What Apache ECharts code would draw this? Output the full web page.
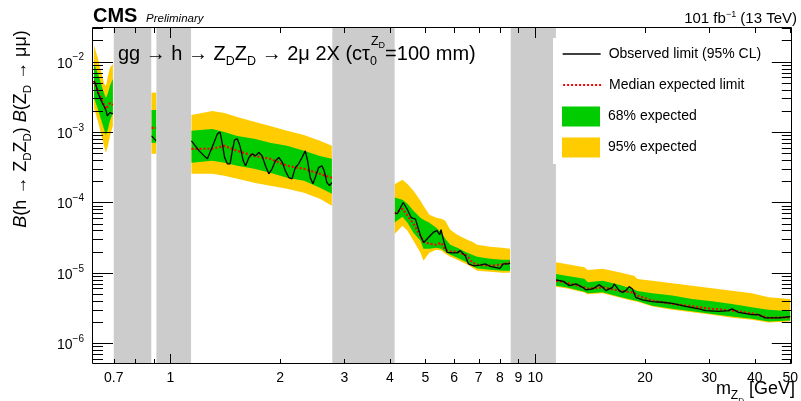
<!DOCTYPE html>
<html><head><meta charset="utf-8">
<script src="https://cdn.jsdelivr.net/npm/echarts@6/dist/echarts.min.js"></script>
<style>html,body{margin:0;padding:0;background:#fff}#c{width:801px;height:401px}</style>
</head><body><div id="c"></div>
<script>
const FONT = '"Liberation Sans", Arial, Helvetica, sans-serif';

// ---------------- data (null = gap between mass windows) ----------------
const massExp = [
  0.618, 0.633, 0.645, 0.658, 0.666, 0.675, 0.683, 0.696, null,
  0.888, 0.915, null,
  1.143, 1.304, 1.406, 1.526, 1.698, 1.877, 2.089, 2.325, 2.570, 2.772, null,
  4.118, 4.329, 4.467, 4.639, 4.849, 4.941, 5.129, 5.359, 5.530, 5.671, 5.851, 6.114, 6.513, 6.721, 6.934, 7.521, 8.113, 8.531, null,
  11.41, 12.15, 13.64, 13.93, 15.30, 16.99, 18.67, 19.06, 20.95, 23.75, 26.93, 30.53, 34.62, 39.25, 43.60, 50.0
];
const yellowHigh = [
  0.0170, 0.0113, 7.38e-3, 4.99e-3, 4.52e-3, 6.27e-3, 8.14e-3, 9.28e-3, null,
  3.63e-3, 3.63e-3, null,
  1.75e-3, 2.0e-3, 1.87e-3, 1.64e-3, 1.40e-3, 1.22e-3, 1.04e-3, 9.12e-4, 7.5e-4, 6.37e-4, null,
  1.82e-4, 2.10e-4, 1.83e-4, 1.47e-4, 1.06e-4, 8.98e-5, 6.69e-5, 6.07e-5, 5.87e-5, 5.50e-5, 4.10e-5, 3.48e-5, 2.96e-5, 2.77e-5, 2.51e-5, 2.35e-5, 2.28e-5, 2.20e-5, null,
  1.41e-5, 1.34e-5, 1.20e-5, 1.10e-5, 1.14e-5, 1.02e-5, 9.12e-6, 8.20e-6, 7.75e-6, 7.10e-6, 6.58e-6, 6.03e-6, 5.59e-6, 5.12e-6, 4.49e-6, 4.26e-6
];
const greenHigh = [
  9.28e-3, 6.91e-3, 4.99e-3, 3.60e-3, 3.06e-3, 3.60e-3, 4.52e-3, 5.68e-3, null,
  2.06e-3, 2.06e-3, null,
  1.04e-3, 1.11e-3, 1.0e-3, 8.83e-4, 8.01e-4, 7.03e-4, 6.37e-4, 5.41e-4, 4.59e-4, 4.17e-4, null,
  1.18e-4, 1.09e-4, 9.58e-5, 7.63e-5, 6.07e-5, 5.68e-5, 5.15e-5, 4.38e-5, 3.72e-5, 3.06e-5, 2.51e-5, 2.28e-5, 1.93e-5, 1.81e-5, 1.70e-5, 1.59e-5, 1.54e-5, 1.54e-5, null,
  9.65e-6, 9.12e-6, 8.27e-6, 7.33e-6, 7.75e-6, 6.80e-6, 5.78e-6, 5.54e-6, 5.12e-6, 4.75e-6, 4.26e-6, 3.94e-6, 3.62e-6, 3.24e-6, 2.98e-6, 2.84e-6
];
const medianExp = [
  5.32e-3, 3.84e-3, 3.06e-3, 2.43e-3, 2.13e-3, 2.35e-3, 2.59e-3, 2.43e-3, null,
  1.15e-3, 1.15e-3, null,
  5.78e-4, 5.8e-4, 6.37e-4, 5.41e-4, 4.59e-4, 4.17e-4, 3.32e-4, 3.01e-4, 2.55e-4, 2.24e-4, null,
  6.91e-5, 8.14e-5, 6.48e-5, 4.99e-5, 3.37e-5, 2.77e-5, 2.59e-5, 2.51e-5, 2.68e-5, 2.13e-5, 2.0e-5, 2.0e-5, 1.75e-5, 1.40e-5, 1.31e-5, 1.26e-5, 1.31e-5, 1.40e-5, null,
  7.75e-6, 7.26e-6, 6.17e-6, 5.97e-6, 6.23e-6, 5.59e-6, 5.24e-6, 4.75e-6, 4.03e-6, 3.62e-6, 3.35e-6, 3.08e-6, 2.91e-6, 2.66e-6, 2.29e-6, 2.34e-6
];
const greenLow = [
  3.06e-3, 2.13e-3, 1.54e-3, 1.11e-3, 9.12e-4, 1.11e-3, 1.44e-3, 1.87e-3, null,
  7.03e-4, 7.03e-4, null,
  3.66e-4, 3.9e-4, 3.66e-4, 3.32e-4, 3.01e-4, 2.64e-4, 2.24e-4, 2.03e-4, 1.62e-4, 1.33e-4, null,
  5.2e-5, 6.27e-5, 5.15e-5, 3.72e-5, 2.86e-5, 2.20e-5, 2.20e-5, 2.28e-5, 2.20e-5, 2.0e-5, 1.81e-5, 1.64e-5, 1.40e-5, 1.26e-5, 1.15e-5, 1.11e-5, 1.07e-5, 1.07e-5, null,
  6.58e-6, 6.23e-6, 5.41e-6, 5.12e-6, 5.29e-6, 4.59e-6, 4.07e-6, 3.99e-6, 3.42e-6, 3.08e-6, 2.84e-6, 2.61e-6, 2.39e-6, 2.22e-6, 2.03e-6, 2.10e-6
];
const yellowLow = [
  2.2e-3, 1.44e-3, 9.74e-4, 6.37e-4, 5.07e-4, 6.37e-4, 8.83e-4, 1.22e-3, null,
  4.91e-4, 4.91e-4, null,
  2.55e-4, 2.55e-4, 2.39e-4, 2.17e-4, 1.90e-4, 1.73e-4, 1.56e-4, 1.37e-4, 1.13e-4, 8.98e-5, null,
  3.56e-5, 4.67e-5, 3.97e-5, 2.86e-5, 1.93e-5, 1.49e-5, 1.93e-5, 2.13e-5, 2.07e-5, 1.87e-5, 1.70e-5, 1.54e-5, 1.31e-5, 1.19e-5, 1.07e-5, 1.04e-5, 1.0e-5, 1.0e-5, null,
  6.37e-6, 6.03e-6, 5.24e-6, 4.95e-6, 5.12e-6, 4.45e-6, 3.94e-6, 3.87e-6, 3.32e-6, 2.98e-6, 2.75e-6, 2.53e-6, 2.31e-6, 2.15e-6, 1.97e-6, 2.03e-6
];

const massObs = [
  0.618, 0.627, 0.633, 0.640, 0.647, 0.654, 0.661, 0.667, 0.672, 0.678, 0.683, 0.689, 0.696, null,
  0.888, 0.915, null,
  1.143, 1.200, 1.238, 1.264, 1.290, 1.318, 1.346, 1.369, 1.389, 1.409, 1.433, 1.458, 1.479, 1.500, 1.526, 1.552, 1.585, 1.608, 1.643, 1.677,
  1.712, 1.749, 1.785, 1.823, 1.862, 1.901, 1.941, 1.983, 2.025, 2.067, 2.112, 2.156, 2.201, 2.248, 2.296, 2.344, 2.379, 2.418, 2.460, 2.496,
  2.550, 2.603, 2.641, 2.686, 2.732, 2.772, null,
  4.118, 4.188, 4.348, 4.459, 4.573, 4.698, 4.749, 4.849, 4.950, 5.107, 5.270, 5.383, 5.472, 5.521, 5.612, 5.734, 5.916, 6.104, 6.232, 6.431,
  6.566, 6.776, 7.067, 7.292, 7.521, 8.011, 8.179, 8.267, 8.441, 8.531, null,
  11.41, 11.95, 12.41, 12.94, 13.49, 13.78, 14.37, 14.99, 15.30, 15.62, 16.29, 16.47, 16.99, 17.35, 17.71, 18.09, 18.48, 18.86, 19.67, 20.95,
  22.30, 23.75, 25.82, 28.09, 29.27, 31.84, 33.91, 34.62, 36.11, 39.25, 40.94, 42.67, 46.42, 48.38, 50.0
];
const observed = [
  5.32e-3, 4.52e-3, 3.63e-3, 3.45e-3, 2.77e-3, 2.62e-3, 2.23e-3, 2.0e-3, 1.70e-3, 1.81e-3, 1.89e-3, 1.79e-3, 1.81e-3, null,
  8.83e-4, 7.5e-4, null,
  7.5e-4, 5.41e-4, 4.59e-4, 4.17e-4, 5.41e-4, 7.1e-4, 9.43e-4, 1.0e-3, 6.8e-4, 4.35e-4, 3.54e-4, 3.54e-4, 5.41e-4, 7.75e-4, 8.01e-4, 6.37e-4, 3.9e-4, 3.32e-4, 4.35e-4, 4.91e-4,
  4.59e-4, 5.13e-4, 4.59e-4, 3.32e-4, 2.55e-4, 3.01e-4, 3.9e-4, 4.35e-4, 3.78e-4, 2.82e-4, 2.26e-4, 2.17e-4, 3.13e-4, 3.54e-4, 4.35e-4, 5.41e-4, 3.9e-4, 2.26e-4, 1.84e-4, 2.26e-4,
  3.13e-4, 3.32e-4, 2.82e-4, 1.92e-4, 1.73e-4, 1.92e-4, null,
  7.14e-5, 6.91e-5, 1.0e-4, 8.0e-5, 6.1e-5, 5.8e-5, 5.8e-5, 3.37e-5, 2.7e-5, 3.2e-5, 3.8e-5, 3.97e-5, 3.48e-5, 4.10e-5, 2.86e-5, 1.95e-5, 1.93e-5, 1.92e-5, 2.07e-5, 1.75e-5,
  1.34e-5, 1.26e-5, 1.29e-5, 1.34e-5, 1.24e-5, 1.16e-5, 1.34e-5, 1.41e-5, 1.34e-5, 1.38e-5, null,
  7.93e-6, 7.57e-6, 6.58e-6, 6.96e-6, 6.23e-6, 5.72e-6, 5.91e-6, 6.80e-6, 6.23e-6, 5.59e-6, 6.23e-6, 6.96e-6, 5.59e-6, 5.29e-6, 5.59e-6, 6.37e-6, 5.91e-6, 4.49e-6, 4.13e-6, 3.90e-6,
  3.82e-6, 3.69e-6, 3.35e-6, 3.08e-6, 2.91e-6, 2.84e-6, 2.91e-6, 3.08e-6, 2.75e-6, 2.55e-6, 2.55e-6, 2.29e-6, 2.29e-6, 2.34e-6, 2.39e-6
];

// mass windows excluded from the search (grey)
const excludedRanges = [[0.70, 0.887], [0.916, 1.14], [2.78, 4.12], [8.57, 11.4]];

const xTickLabels = [0.7, 1, 2, 3, 4, 5, 6, 7, 8, 9, 10, 20, 30, 40, 50];
const xShortTicks = [0.7, 0.8, 0.9, 2, 3, 4, 5, 6, 7, 8, 9, 20, 30, 40, 50];
const xLongTicks = [1, 10];
const yDecades = [1e-6, 1e-5, 1e-4, 1e-3, 1e-2];

const X_MIN = 0.614, X_MAX = 50.5;
const Y_MIN = 5.07e-7, Y_MAX = 0.0301;

const yMinorTicks = [];
for (let e = -7; e <= -2; e++) for (let m = 2; m <= 9; m++) {
  const v = m * Math.pow(10, e);
  if (v > Y_MIN && v < Y_MAX) yMinorTicks.push(v);
}

// ---------------- helpers ----------------
function segments(xs, cols) {
  const out = []; let cur = [];
  xs.forEach((x, i) => {
    if (x === null) { if (cur.length) out.push(cur); cur = []; }
    else cur.push([x].concat(cols.map(c => c[i])));
  });
  if (cur.length) out.push(cur);
  return out;
}
function pairs(xs, ys) {
  return xs.map((x, i) => x === null ? ['-', '-'] : [x, ys[i]]);
}
function bandSeries(name, color, lo, hi) {
  const segs = segments(massExp, [lo, hi]);
  return {
    name, type: 'custom', z: 1, silent: true,
    itemStyle: { color },
    data: segs.map((s, i) => [s[0][0], s[0][2], i]),
    encode: { x: 0, y: 1 },
    renderItem: (params, api) => {
      const seg = segs[params.dataIndex];
      const up = seg.map(p => api.coord([p[0], p[2]]));
      const dn = seg.map(p => api.coord([p[0], p[1]])).reverse();
      return { type: 'polygon', shape: { points: up.concat(dn) }, style: { fill: color } };
    }
  };
}
const crisp = v => Math.round(v) + 0.5;
const tickStyle = { stroke: '#000', lineWidth: 1 };

// tick marks (inside, mirrored on all four sides), positioned by the axis scales
const xTickData = xShortTicks.map(v => [v, Y_MIN, 5]).concat(xLongTicks.map(v => [v, Y_MIN, 10]));
const yTickData = yMinorTicks.map(v => [X_MIN, v, 10]).concat(yDecades.map(v => [X_MIN, v, 20]));

const chart = echarts.init(document.getElementById('c'), null, { renderer: 'canvas' });

const ctx = document.createElement('canvas').getContext('2d');
function tw(text, size) { ctx.font = size + 'px ' + FONT; return ctx.measureText(text).width; }
const TFS = 20, SFS = 12.5;
const prefixW = tw('gg \u2192 h \u2192 Z', TFS) + tw('D', SFS) + tw('Z', TFS) + tw('D', SFS) + tw(' \u2192 2\u03bc 2X (c\u03c4', TFS);
const stackW = tw('Z', SFS) + tw('D', 9) + 1;
const TITLE_X = 118;

function legendAt(top, item) {
  return {
    left: 562, top, orient: 'vertical', itemWidth: 38, itemHeight: 20, padding: 0,
    selectedMode: false, z: 60,
    textStyle: { fontFamily: FONT, fontSize: 14, color: '#000', padding: [0, 0, 0, 3] },
    data: [item]
  };
}

function axisBase(extra) {
  return Object.assign({
    type: 'log', logBase: 10,
    axisLine: { show: false }, axisTick: { show: false }, splitLine: { show: false }, axisLabel: { show: false }
  }, extra);
}

const option = {
  animation: false,
  backgroundColor: '#fff',
  grid: { left: 93, right: 6, top: 28, bottom: 37 },
  xAxis: [axisBase({
    min: X_MIN, max: X_MAX, position: 'bottom',
    axisLabel: { show: true, customValues: xTickLabels, fontFamily: FONT, fontSize: 14, color: '#000', margin: 7,
      formatter: v => String(+v.toPrecision(3)) }
  })],
  yAxis: [axisBase({
    min: Y_MIN, max: Y_MAX, position: 'left',
    axisLabel: { show: true, customValues: yDecades, margin: 9, fontFamily: FONT, color: '#000',
      formatter: v => '{b|10}{p|\u2212' + Math.round(-Math.log10(v)) + '}',
      rich: {
        b: { fontFamily: FONT, fontSize: 14, lineHeight: 18, verticalAlign: 'bottom', color: '#000' },
        p: { fontFamily: FONT, fontSize: 10, lineHeight: 11, verticalAlign: 'top', color: '#000' }
      } }
  })],
  legend: [
    legendAt(46, { name: 'Observed limit (95% CL)', itemStyle: { opacity: 0 }, lineStyle: { color: '#000', width: 1.3 } }),
    legendAt(77, { name: 'Median expected limit', itemStyle: { opacity: 0 }, lineStyle: { color: '#ff0000', width: 2.2, type: [2, 2] } }),
    legendAt(106.5, { name: '68% expected', icon: 'rect' }),
    legendAt(137.5, { name: '95% expected', icon: 'rect' })
  ],
  series: [
    bandSeries('95% expected', '#ffcc00', yellowLow, yellowHigh),
    bandSeries('68% expected', '#00cc00', greenLow, greenHigh),
    {
      name: 'Median expected limit', type: 'line', z: 3, symbol: 'none', connectNulls: false, silent: true,
      data: pairs(massExp, medianExp),
      lineStyle: { color: '#ff0000', width: 2.2, type: [2, 2] }, itemStyle: { color: '#ff0000' }
    },
    {
      name: 'Observed limit (95% CL)', type: 'line', z: 4, symbol: 'none', connectNulls: false, silent: true,
      data: pairs(massObs, observed),
      lineStyle: { color: '#000', width: 1.3 }, itemStyle: { color: '#000' }
    },
    {
      name: 'excluded', type: 'custom', z: 6, silent: true,
      data: excludedRanges.map(r => [r[0], r[1]]),
      encode: { x: [0, 1] },
      renderItem: (params, api) => {
        const cs = params.coordSys;
        const x0 = api.coord([api.value(0), Y_MAX])[0];
        const x1 = api.coord([api.value(1), Y_MAX])[0];
        return { type: 'rect', shape: { x: x0, y: cs.y, width: x1 - x0, height: cs.height }, style: { fill: '#cccccc' } };
      }
    },
    {
      name: 'xticks', type: 'custom', z: 20, silent: true, clip: false,
      data: xTickData, encode: { x: 0, y: 1 },
      renderItem: (params, api) => {
        const cs = params.coordSys;
        const px = crisp(api.coord([api.value(0), Y_MIN])[0]);
        const len = api.value(2);
        const yb = cs.y + cs.height, yt = cs.y;
        return { type: 'group', children: [
          { type: 'line', shape: { x1: px, y1: yb, x2: px, y2: yb - len }, style: tickStyle },
          { type: 'line', shape: { x1: px, y1: yt, x2: px, y2: yt + len }, style: tickStyle }
        ] };
      }
    },
    {
      name: 'yticks', type: 'custom', z: 20, silent: true, clip: false,
      data: yTickData, encode: { x: 0, y: 1 },
      renderItem: (params, api) => {
        const cs = params.coordSys;
        const py = crisp(api.coord([X_MIN, api.value(1)])[1]);
        const len = api.value(2);
        const xl = cs.x, xr = cs.x + cs.width;
        return { type: 'group', children: [
          { type: 'line', shape: { x1: xl, y1: py, x2: xl + len, y2: py }, style: tickStyle },
          { type: 'line', shape: { x1: xr, y1: py, x2: xr - len, y2: py }, style: tickStyle }
        ] };
      }
    },
    {
      name: 'frame', type: 'custom', z: 21, silent: true, clip: false,
      data: [[X_MIN, Y_MIN]], encode: { x: 0, y: 1 },
      renderItem: (params) => {
        const cs = params.coordSys;
        const x0 = crisp(cs.x) - 1, y0 = crisp(cs.y) - 1, x1 = crisp(cs.x + cs.width) - 1, y1 = crisp(cs.y + cs.height) - 1;
        return { type: 'rect', shape: { x: x0, y: y0, width: x1 - x0, height: y1 - y0 }, style: { fill: 'none', stroke: '#000', lineWidth: 1 } };
      }
    }
  ],
  graphic: [
    { type: 'rect', z: 8, shape: { x: 553, y: 38, width: 242, height: 126 }, style: { fill: '#fff' } },
    { type: 'text', z: 60, x: 93, y: 16.5, style: { text: 'CMS', fontFamily: FONT, fontWeight: 'bold', fontSize: 20, fill: '#000', align: 'left', verticalAlign: 'middle' } },
    { type: 'text', z: 60, x: 146, y: 18.8, style: { text: 'Preliminary', fontFamily: FONT, fontStyle: 'italic', fontSize: 11.5, fill: '#000', align: 'left', verticalAlign: 'middle' } },
    { type: 'text', z: 60, x: 797, y: 18, style: {
      text: '{m|101 fb}{p|\u22121}{m| (13 TeV)}', align: 'right', verticalAlign: 'middle',
      rich: { m: { fontFamily: FONT, fontSize: 15, lineHeight: 16, verticalAlign: 'bottom', fill: '#000' },
              p: { fontFamily: FONT, fontSize: 9, lineHeight: 10, verticalAlign: 'top', fill: '#000' } } } },
    { type: 'text', z: 60, x: TITLE_X, y: 44, style: {
      text: '{m|gg \u2192 h \u2192 Z}{s|D}{m|Z}{s|D}{m| \u2192 2\u03bc 2X (c\u03c4}{z|0}{m|=100 mm)}', align: 'left', verticalAlign: 'top',
      rich: { m: { fontFamily: FONT, fontSize: TFS, lineHeight: 22, verticalAlign: 'top', fill: '#000' },
              s: { fontFamily: FONT, fontSize: SFS, lineHeight: 12, padding: [11, 0, 0, 0], verticalAlign: 'top', fill: '#000' },
              z: { fontFamily: FONT, fontSize: SFS, lineHeight: 12, padding: [11, 0, 0, 0], verticalAlign: 'top', width: stackW, fill: '#000' } } } },
    { type: 'text', z: 60, x: TITLE_X + prefixW + 1, y: 35, style: {
      text: '{a|Z}{b|D}', align: 'left', verticalAlign: 'top',
      rich: { a: { fontFamily: FONT, fontSize: SFS, lineHeight: 12, verticalAlign: 'top', fill: '#000' },
              b: { fontFamily: FONT, fontSize: 9, lineHeight: 9, padding: [6, 0, 0, 0], verticalAlign: 'top', fill: '#000' } } } },
    { type: 'text', z: 60, x: 22, y: 129, rotation: Math.PI / 2, style: {
      text: '{i|B}{m|(h \u2192 Z}{s|D}{m|Z}{s|D}{m|) }{i|B}{m|(Z}{s|D}{m| \u2192 \u03bc\u03bc)}', align: 'center', verticalAlign: 'middle',
      rich: { m: { fontFamily: FONT, fontSize: 18, lineHeight: 20, verticalAlign: 'top', fill: '#000' },
              i: { fontFamily: FONT, fontStyle: 'italic', fontSize: 18, lineHeight: 20, verticalAlign: 'top', fill: '#000' },
              s: { fontFamily: FONT, fontSize: 11.5, lineHeight: 11, padding: [10, 0, 0, 0], verticalAlign: 'top', fill: '#000' } } } },
    { type: 'text', z: 60, x: 795, y: 380, style: {
      text: '{m|m}{s|Z}{d|D}{m| [GeV]}', align: 'right', verticalAlign: 'top',
      rich: { m: { fontFamily: FONT, fontSize: 18, lineHeight: 19, verticalAlign: 'top', fill: '#000' },
              s: { fontFamily: FONT, fontSize: 12, lineHeight: 12, padding: [10, 0, 0, 0], verticalAlign: 'top', fill: '#000' },
              d: { fontFamily: FONT, fontSize: 8, lineHeight: 8, padding: [17, 0, 0, 0], verticalAlign: 'top', fill: '#000' } } } }
  ]
};
chart.setOption(option);
</script>
</body></html>
